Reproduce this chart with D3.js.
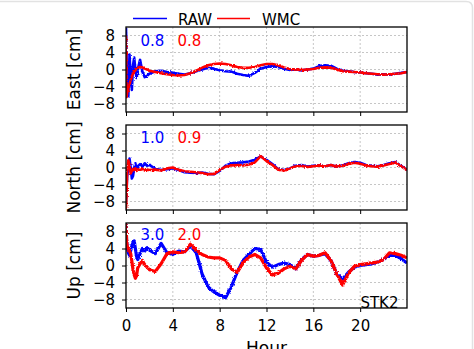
<!DOCTYPE html>
<html>
<head>
<meta charset="utf-8">
<script src="https://cdn.jsdelivr.net/npm/d3@7"></script>
<style>
body{margin:0;background:#fff;}
svg{display:block;font-family:"DejaVu Sans",sans-serif;}
</style>
</head>
<body>
<svg width="474" height="349"></svg>
<script>
// sample times (hours)
const hours=[0,0.05,0.1,0.2,0.3,0.4,0.5,0.6,0.7,0.8,0.9,1.0,1.2,1.4,1.6,1.8,
  2,2.5,3,3.5,4,4.5,5,5.5,6,6.5,7,7.5,8,8.5,9,9.5,10,10.5,11,11.5,
  12,12.5,13,13.5,14,14.5,15,15.5,16,16.5,17,17.5,18,18.5,19,19.5,20,20.5,
  21,21.5,22,22.5,23,23.5,24];

// east component [cm]
const eastRaw=[10,3,-4,-6.3,3.5,-2,-4.8,1,2.8,0,-2,0,2.3,-0.5,-1.8,-1.5,
  -1.0,-0.4,-0.3,-0.6,-0.8,-1.0,-1.2,-0.9,-0.4,0.0,0.4,0.2,-0.2,-0.4,-0.5,-1.0,-1.3,-1.5,-0.8,0.2,
  0.6,0.8,0.6,0.2,-0.1,0.0,-0.2,0.0,0.2,0.8,1.0,0.9,0.2,-0.3,-0.4,-0.6,-0.7,-0.9,
  -1.0,-1.2,-1.1,-1.2,-1.0,-0.8,-0.6];
const eastWmc=[8,-6.5,-5.5,-4.5,-3.5,-2.5,-1.6,-1,-0.5,-0.2,0.2,0.4,0.6,0.5,0.2,0.0,
  -0.3,-0.6,-0.9,-1.1,-1.3,-1.4,-1.3,-0.9,-0.3,0.4,1.0,1.3,1.4,1.3,1.0,0.6,0.4,0.4,0.6,1.0,
  1.3,1.3,1.0,0.5,0.1,0.0,-0.1,0.0,0.1,0.4,0.5,0.4,0.0,-0.4,-0.5,-0.6,-0.7,-0.9,
  -1.0,-1.1,-1.2,-1.1,-1.0,-0.9,-0.6];

// north component [cm]
const northRaw=[-8,-5,-2,0,2.1,0,-2.6,-2,0,1,-0.5,0.3,0.8,0.2,1.0,0.4,
  0.6,-0.3,-0.6,-0.4,-0.2,-0.6,-1.1,-1.2,-1.3,-1.2,-1.5,-1.6,-0.8,0.4,1.0,1.1,1.2,1.4,1.8,2.6,
  1.8,0.8,-0.4,-0.6,-0.2,0.4,0.6,0.2,0.4,0.5,0.3,0.6,0.2,0.5,1.0,1.3,1.1,0.6,
  0.4,0.3,0.6,1.0,1.3,0.4,-0.6];
const northWmc=[-10,-6,-1,1.7,0.5,-1.4,-0.8,-0.3,-0.6,-0.2,-0.8,-0.4,-0.6,-0.3,-0.7,-0.5,
  -0.6,-0.5,-0.7,-0.2,0.0,-0.5,-0.9,-1.0,-1.1,-1.3,-1.6,-1.5,-0.6,0.2,0.5,0.6,0.5,0.7,1.2,2.7,
  1.5,0.6,-0.5,-0.7,-0.2,0.3,0.4,0.1,0.3,0.5,0.3,0.6,0.2,0.4,0.8,1.1,0.9,0.5,
  0.3,0.2,0.5,0.8,1.2,0.3,-0.6];

// up component [cm]
const upRaw=[10,6,4.2,3.0,2.4,3.5,4.6,5.4,5.8,4.0,2.2,1.4,2.8,4.0,3.4,4.2,
  3.6,2.8,5.2,3.0,2.6,3.4,3.2,4.6,3.0,-2.0,-5.0,-6.2,-7.0,-7.6,-5.0,-1.5,1.2,2.6,4.0,3.8,
  0.8,-0.4,0.2,0.6,0.2,-0.8,1.4,2.6,2.2,2.4,2.8,1.2,-2.0,-3.2,-1.6,-0.4,0.0,0.2,
  0.4,0.8,1.4,2.4,2.4,1.6,0.6];
const upWmc=[10,6,4.6,3.8,3.4,2.8,1.0,-1.0,-2.2,-3.0,-2.4,-0.6,0.4,1.2,0.2,-0.4,
  -1.0,-1.4,0.4,2.8,3.2,3.0,3.2,5.0,3.6,2.6,2.0,1.8,1.8,1.2,-0.8,-1.6,0.6,2.0,2.6,1.8,
  -0.6,-2.2,-1.8,-0.8,-0.2,-0.8,1.2,2.6,2.2,2.4,3.0,1.2,-2.0,-4.6,-1.8,-0.2,0.2,0.4,
  0.6,0.8,1.4,3.0,2.8,2.4,1.8];

const panelLabels=['East [cm]','North [cm]','Up [cm]'];
const rawSeries=[eastRaw,northRaw,upRaw];
const wmcSeries=[eastWmc,northWmc,upWmc];
const rawRms=['0.8','1.0','3.0'];
const wmcRms=['0.8','0.9','2.0'];
const xTicks=[0,4,8,12,16,20];
const yTicks=[-8,-4,0,4,8];

const svg=d3.select('svg');
const left=126, right=407, ph=85;
const tops=[27,125,223];
const bandWidth=[2.6,2.6,3.2];

// card outline
svg.append('path')
   .attr('d','M 0 1.5 L 466 1.5 Q 472.5 1.5 472.5 8 L 472.5 349')
   .attr('fill','none')
   .attr('stroke','#e2e2e2')
   .attr('stroke-width',1.5);

// jitter filter for the noisy series
const defs=svg.append('defs');
const f=defs.append('filter')
            .attr('id','jitter')
            .attr('filterUnits','userSpaceOnUse')
            .attr('x',0).attr('y',0).attr('width',474).attr('height',349);
f.append('feTurbulence')
 .attr('type','fractalNoise')
 .attr('baseFrequency','0.7')
 .attr('numOctaves',1)
 .attr('seed',3)
 .attr('result','noise');
f.append('feDisplacementMap')
 .attr('in','SourceGraphic')
 .attr('in2','noise')
 .attr('scale',3)
 .attr('xChannelSelector','R')
 .attr('yChannelSelector','G');

const x=d3.scaleLinear().domain([0,24]).range([left,right]);

tops.forEach(function(top,i){
    const y=d3.scaleLinear().domain([-10,10]).range([top+ph,top]);
    const g=svg.append('g');

    defs.append('clipPath')
        .attr('id',`clip${i}`)
        .append('rect')
        .attr('x',left).attr('y',top)
        .attr('width',right-left).attr('height',ph);

    // grid
    g.selectAll('.gx').data(xTicks.filter(d=>d>0)).enter()
     .append('line')
     .attr('x1',d=>x(d)).attr('x2',d=>x(d))
     .attr('y1',top).attr('y2',top+ph)
     .attr('stroke','#b8b8b8').attr('stroke-width',0.8)
     .attr('stroke-dasharray','2,2');
    g.selectAll('.gy').data(yTicks).enter()
     .append('line')
     .attr('x1',left).attr('x2',right)
     .attr('y1',d=>y(d)).attr('y2',d=>y(d))
     .attr('stroke','#b8b8b8').attr('stroke-width',0.8)
     .attr('stroke-dasharray','2,2');

    // rms numbers
    const base=top+[19,18,17][i];
    g.append('text').attr('x',140.5).attr('y',base)
     .attr('font-size','15px').attr('fill','#0000ff').text(rawRms[i]);
    g.append('text').attr('x',177.5).attr('y',base)
     .attr('font-size','15px').attr('fill','#ff0000').text(wmcRms[i]);

    // series
    const line=d3.line().x((d,k)=>x(hours[k])).y(d=>y(d));
    const lines=g.append('g').attr('clip-path',`url(#clip${i})`)
                 .append('g').attr('filter','url(#jitter)');
    lines.append('path')
         .attr('d',line(rawSeries[i]))
         .attr('fill','none').attr('stroke','#0000ff')
         .attr('stroke-width',bandWidth[i]).attr('stroke-linejoin','round');
    lines.append('path')
         .attr('d',line(wmcSeries[i]))
         .attr('fill','none').attr('stroke','#ff0000')
         .attr('stroke-width',bandWidth[i]).attr('stroke-linejoin','round');

    // axes
    const ya=g.append('g').attr('transform',`translate(${left},0)`)
              .call(d3.axisLeft(y).tickValues(yTicks).tickSize(4).tickPadding(7));
    const xa=g.append('g').attr('transform',`translate(0,${top+ph})`)
              .call(d3.axisBottom(x).tickValues(xTicks).tickSize(4).tickPadding(8)
                    .tickFormat(i==2 ? d3.format('d') : ''));
    [ya,xa].forEach(function(a){
        a.select('.domain').remove();
        a.attr('font-family',null).attr('font-size',null);
        a.selectAll('line').attr('stroke','#000').attr('stroke-width',1);
        a.selectAll('text').attr('font-size','15px').attr('fill','#000');
    });

    // frame
    g.append('rect')
     .attr('x',left).attr('y',top)
     .attr('width',right-left).attr('height',ph)
     .attr('fill','none').attr('stroke','#000').attr('stroke-width',1.3);

    g.append('text')
     .attr('transform',`translate(79.5,${top+ph/2}) rotate(-90)`)
     .attr('text-anchor','middle')
     .attr('font-size','17px')
     .text(panelLabels[i]);
});

svg.append('text')
   .attr('x',398.5).attr('y',307.5)
   .attr('text-anchor','end')
   .attr('font-size','15px')
   .text('STK2');

svg.append('text')
   .attr('x',(left+right)/2).attr('y',354)
   .attr('text-anchor','middle')
   .attr('font-size','17px')
   .text('Hour');

// legend
const legend=svg.append('g');
legend.append('line').attr('x1',133).attr('x2',167).attr('y1',18.5).attr('y2',18.5)
      .attr('stroke','#0000ff').attr('stroke-width',1.6);
legend.append('text').attr('x',178).attr('y',25).attr('font-size','15px').text('RAW');
legend.append('line').attr('x1',217).attr('x2',250).attr('y1',18.5).attr('y2',18.5)
      .attr('stroke','#ff0000').attr('stroke-width',1.6);
legend.append('text').attr('x',262).attr('y',25).attr('font-size','15px').text('WMC');
</script>
</body>
</html>
